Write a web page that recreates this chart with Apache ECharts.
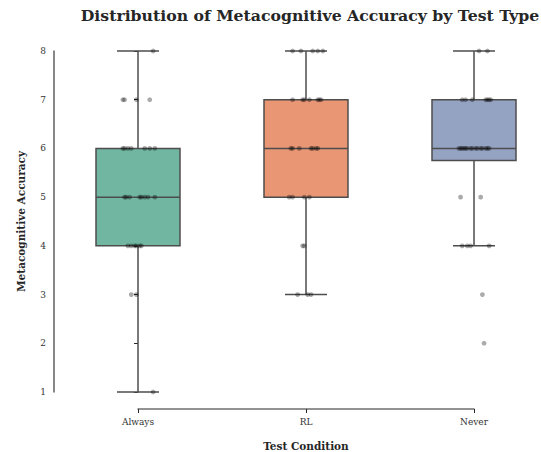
<!DOCTYPE html>
<html><head><meta charset="utf-8">
<script src="https://cdn.jsdelivr.net/npm/echarts@6/dist/echarts.min.js"></script>
<style>html,body{margin:0;padding:0;background:#fff}#c{width:541px;height:452px}</style>
</head><body><div id="c"></div>
<script>
const categories = ['Always', 'RL', 'Never'];
const yTicks = [1, 2, 3, 4, 5, 6, 7, 8];
const boxColors = ['#71b6a0', '#e99675', '#95a3c3'];
const alwaysPoints = [
  [8, 0.09],
  [7, -0.09], [7, -0.08], [7, -0.01], [7, 0.07],
  [6, -0.09], [6, -0.08], [6, -0.06], [6, -0.04], [6, 0.04], [6, 0.07], [6, 0.10],
  [5, -0.08], [5, -0.07], [5, -0.05], [5, 0.01], [5, 0.02], [5, 0.04], [5, 0.06], [5, 0.10],
  [4, -0.06], [4, -0.04], [4, -0.02], [4, -0.01], [4, 0.01], [4, 0.02],
  [3, -0.04], [3, -0.01],
  [1, 0.09]
];
const rlPoints = [
  [8, -0.08], [8, -0.03], [8, 0.04], [8, 0.07], [8, 0.10],
  [7, -0.08], [7, -0.02], [7, -0.01], [7, 0.02], [7, 0.07], [7, 0.08], [7, 0.09],
  [6, -0.09], [6, -0.08], [6, -0.04], [6, 0.03], [6, 0.04], [6, 0.06], [6, 0.07],
  [5, -0.10], [5, -0.08], [5, -0.01], [5, 0.02],
  [4, -0.02], [4, -0.01],
  [3, -0.05], [3, 0.01], [3, 0.03]
];
const neverPoints = [
  [8, 0.03], [8, 0.08],
  [7, -0.07], [7, -0.05], [7, -0.01], [7, 0.07], [7, 0.08], [7, 0.09], [7, 0.10],
  [6, -0.09], [6, -0.08], [6, -0.07], [6, -0.06], [6, -0.05], [6, -0.04], [6, -0.02], [6, -0.01],
  [6, 0.01], [6, 0.02], [6, 0.04], [6, 0.05], [6, 0.07], [6, 0.08], [6, 0.09],
  [5, -0.08], [5, 0.04],
  [4, -0.07], [4, -0.04], [4, -0.02], [4, 0.09],
  [3, 0.05],
  [2, 0.06]
];
const groups = [alwaysPoints, rlPoints, neverPoints];

function quantile(sorted, p) {
  const pos = (sorted.length - 1) * p, lo = Math.floor(pos), hi = Math.ceil(pos);
  return sorted[lo] + (sorted[hi] - sorted[lo]) * (pos - lo);
}
const boxData = groups.map((g, i) => {
  const s = g.map(d => d[0]).sort((a, b) => a - b);
  const q1 = quantile(s, 0.25), med = quantile(s, 0.5), q3 = quantile(s, 0.75);
  const iqr = q3 - q1;
  const lo = Math.min(...s.filter(v => v >= q1 - 1.5 * iqr));
  const hi = Math.max(...s.filter(v => v <= q3 + 1.5 * iqr));
  return [i, lo, q1, med, q3, hi];
});
const scatterData = [];
groups.forEach((g, i) => g.forEach(d => scatterData.push([i + d[1], d[0]])));

const FONT = 'DejaVu Serif';
const EDGE = '#4d4d4d';
const chart = echarts.init(document.getElementById('c'), null, { renderer: 'svg' });
chart.setOption({
  animation: false,
  backgroundColor: '#ffffff',
  title: {
    text: 'Distribution of Metacognitive Accuracy by Test Type',
    left: 305, top: 2, textAlign: 'center',
    textStyle: { fontFamily: FONT, fontWeight: 'bold', fontSize: 15.7, color: '#262626' }
  },
  grid: { left: 54, top: 34, width: 504, height: 375, containLabel: false, outerBoundsMode: 'none' },
  xAxis: [{
    type: 'category', data: categories, boundaryGap: true,
    name: 'Test Condition', nameLocation: 'middle', nameGap: 31,
    nameTextStyle: { fontFamily: FONT, fontWeight: 'bold', fontSize: 10.5, color: '#262626' },
    axisLine: { show: false },
    axisTick: { show: true, alignWithLabel: true, length: 4, lineStyle: { color: '#262626', width: 1 } },
    axisLabel: { fontFamily: FONT, fontSize: 9, color: '#333333', margin: 8 },
    splitLine: { show: false }
  }, {
    type: 'value', min: -0.5, max: 2.5, show: false
  }],
  yAxis: {
    type: 'value', min: 0.65, max: 8.35,
    name: 'Metacognitive Accuracy', nameLocation: 'middle', nameGap: 28, nameRotate: 90,
    nameTextStyle: { fontFamily: FONT, fontWeight: 'bold', fontSize: 10.5, color: '#262626' },
    axisLine: { show: false },
    axisTick: { show: true, length: 4, customValues: yTicks, lineStyle: { color: '#262626', width: 1 } },
    axisLabel: { fontFamily: FONT, fontSize: 9, color: '#333333', margin: 8, customValues: yTicks },
    splitLine: { show: false }
  },
  series: [{
    type: 'custom', xAxisIndex: 1, clip: false, z: 1,
    data: [[0]],
    renderItem: function (params, api) {
      const a = api.coord([-0.5, 1]), b = api.coord([-0.5, 8]);
      const c = api.coord([0, 0.65]), d = api.coord([2, 0.65]);
      const st = { stroke: '#262626', lineWidth: 1.1 };
      return { type: 'group', children: [
        { type: 'line', shape: { x1: a[0], y1: a[1] + 0.5, x2: b[0], y2: b[1] - 0.5 }, style: st },
        { type: 'line', shape: { x1: c[0] - 0.5, y1: c[1], x2: d[0] + 0.5, y2: d[1] }, style: st }
      ] };
    }
  }, {
    type: 'custom', xAxisIndex: 1, clip: false, z: 2,
    data: boxData,
    renderItem: function (params, api) {
      const i = api.value(0);
      const band = api.size([1, 0])[0];
      const half = band * 0.25, cap = band * 0.125;
      const pLo = api.coord([i, api.value(1)]), pQ1 = api.coord([i, api.value(2)]);
      const pMed = api.coord([i, api.value(3)]), pQ3 = api.coord([i, api.value(4)]);
      const pHi = api.coord([i, api.value(5)]);
      const x = pQ1[0];
      const ls = { stroke: EDGE, lineWidth: 1.5 };
      return { type: 'group', children: [
        { type: 'line', shape: { x1: x, y1: pQ1[1], x2: x, y2: pLo[1] }, style: ls },
        { type: 'line', shape: { x1: x, y1: pQ3[1], x2: x, y2: pHi[1] }, style: ls },
        { type: 'line', shape: { x1: x - cap, y1: pLo[1], x2: x + cap, y2: pLo[1] }, style: ls },
        { type: 'line', shape: { x1: x - cap, y1: pHi[1], x2: x + cap, y2: pHi[1] }, style: ls },
        { type: 'rect', shape: { x: x - half, y: pQ3[1], width: half * 2, height: pQ1[1] - pQ3[1] },
          style: { fill: boxColors[i], stroke: EDGE, lineWidth: 1.5 } },
        { type: 'line', shape: { x1: x - half, y1: pMed[1], x2: x + half, y2: pMed[1] }, style: ls }
      ] };
    }
  }, {
    type: 'scatter', xAxisIndex: 1, z: 5,
    symbol: 'circle', symbolSize: 4.8,
    itemStyle: { color: '#000000', opacity: 0.33 },
    data: scatterData
  }]
});
</script></body></html>
